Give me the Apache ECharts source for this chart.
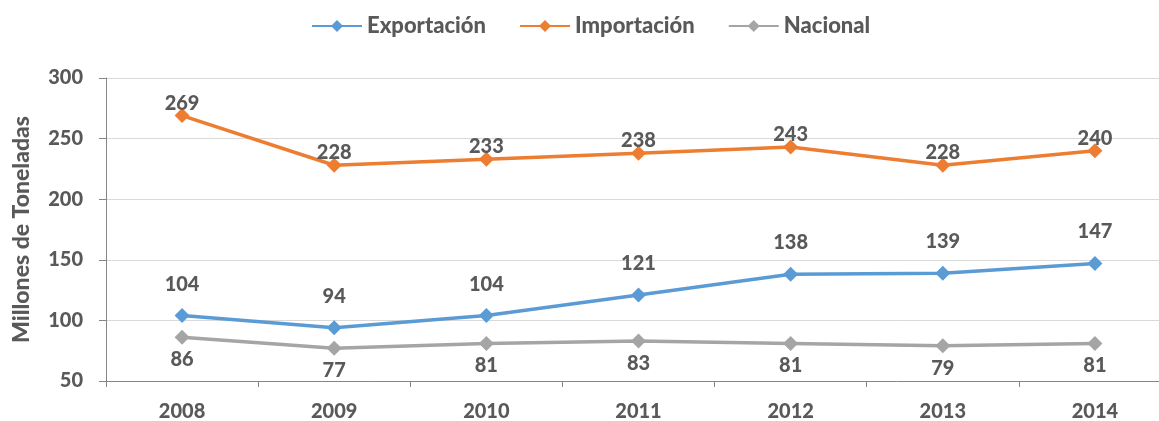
<!DOCTYPE html>
<html><head><meta charset="utf-8">
<script src="https://cdn.jsdelivr.net/npm/echarts@6/dist/echarts.min.js"></script>
<style>html,body{margin:0;padding:0;background:#fff}#c{width:1159px;height:421px}</style>
</head><body><div id="c"></div>
<script>
const categories = ['2008','2009','2010','2011','2012','2013','2014'];
const exportacion = [104, 94, 104, 121, 138, 139, 147];
const importacion = [269, 228, 233, 238, 243, 228, 240];
const nacional = [86, 77, 81, 83, 81, 79, 81];
const yTicks = {min: 50, max: 300, interval: 50};

const FONT = 'Lato';
const TXT = '#595959';
function line(name, data, color, pos, dist) {
  return {
    name, type: 'line', data,
    symbol: 'diamond', symbolSize: 15,
    lineStyle: {width: 3.5, color},
    itemStyle: {color},
    label: {show: true, position: pos, distance: dist, fontFamily: FONT, fontWeight: 900, fontSize: 20, color: TXT}
  };
}
const chart = echarts.init(document.getElementById('c'));
chart.setOption({
  animation: false,
  legend: {
    top: 10, left: 306, itemWidth: 50, itemHeight: 15, itemGap: 33,
    textStyle: {fontFamily: FONT, fontWeight: 900, fontSize: 22, color: TXT}
  },
  grid: {left: 106, top: 78, width: 1065, height: 303, containLabel: false, outerBoundsMode: 'none'},
  xAxis: {
    type: 'category', data: categories, boundaryGap: true,
    axisLine: {lineStyle: {color: '#868686', width: 1}},
    axisTick: {show: true, length: 6, lineStyle: {color: '#868686'}},
    axisLabel: {fontFamily: FONT, fontWeight: 900, fontSize: 20, color: TXT, margin: 21}
  },
  yAxis: {
    type: 'value', min: yTicks.min, max: yTicks.max, interval: yTicks.interval,
    name: 'Millones de Toneladas', nameLocation: 'middle', nameGap: 73, nameRotate: 90,
    nameTextStyle: {fontFamily: FONT, fontWeight: 900, fontSize: 23, color: TXT},
    axisLine: {show: true, lineStyle: {color: '#868686'}},
    axisTick: {show: true, length: 7, lineStyle: {color: '#868686'}},
    axisLabel: {fontFamily: FONT, fontWeight: 900, fontSize: 20, color: TXT, margin: 23},
    splitLine: {lineStyle: {color: '#d9d9d9', width: 1}}
  },
  series: [
    line('Exportación', exportacion, '#5B9BD5', 'top', 14),
    line('Importación', importacion, '#ED7D31', 'top', -5),
    line('Nacional', nacional, '#A5A5A5', 'bottom', 5)
  ]
});
</script></body></html>
